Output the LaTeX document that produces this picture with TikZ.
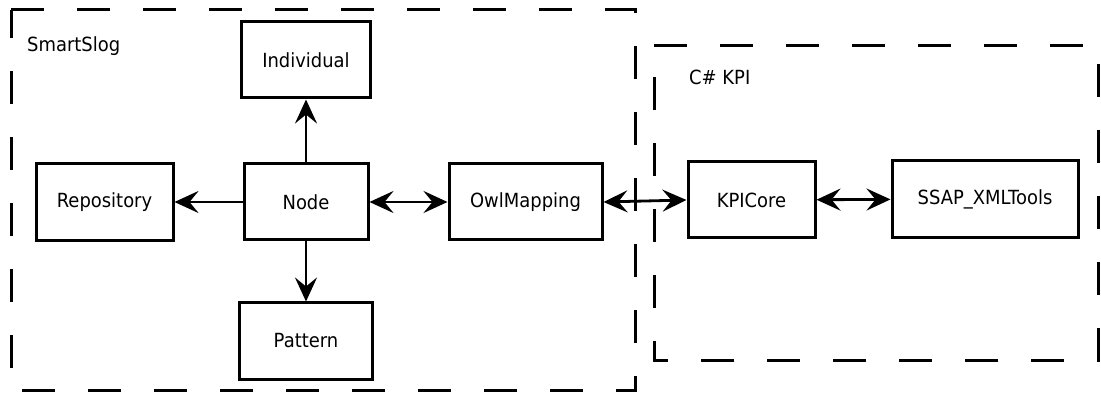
\documentclass[tikz,border=0pt]{standalone}
\usepackage{fontspec}
\setmainfont{DejaVu Sans}[FakeStretch=0.92]
\usetikzlibrary{arrows.meta}
\tikzset{
  box/.style={draw=black, line width=3pt, inner sep=0pt, fill=white},
  group/.style={draw=black, line width=3pt, dash pattern=on 33pt off 33pt},
  tip/.style={Stealth[length=24pt,width=22pt,inset=9pt]},
  conn/.style={line width=2.8pt, -{Stealth[length=24pt,width=22pt,inset=9pt]}},
  biconn/.style={line width=2.8pt, {Stealth[length=24pt,width=22pt,inset=9pt]}-{Stealth[length=24pt,width=22pt,inset=9pt]}},
  lbl/.style={inner sep=0pt, anchor=base west}
}
\begin{document}
\begin{tikzpicture}[x=1pt,y=-1pt,font=\fontsize{19.5}{23}\selectfont]
\useasboundingbox (0,0) rectangle (1101,398);
% groups
\draw[group] (11,10) -- (635,10) -- (635,390) -- (11,390) -- cycle;
\draw[group] (654,46) -- (1098,46) -- (1098,360) -- (654,360) -- cycle;
\node[lbl] (smartslog) at (27,52) {SmartSlog};
\node[lbl] (cskpi) at (689,85) {C\# KPI};
% nodes
\node[box, minimum width=129pt, minimum height=76pt] (individual) at (306,60) {Individual};
\node[box, minimum width=137pt, minimum height=77pt] (repository) at (104.5,202) {Repository};
\node[box, minimum width=124pt, minimum height=76pt] (node) at (306,202) {Node};
\node[box, minimum width=133pt, minimum height=76pt] (pattern) at (306,341) {Pattern};
\node[box, minimum width=153pt, minimum height=76pt] (owl) at (525.5,202) {OwlMapping};
\node[box, minimum width=127pt, minimum height=76pt] (kpicore) at (751.5,200) {KPICore};
\node[box, minimum width=186pt, minimum height=77pt] (ssap) at (985,199) {SSAP\_XMLTools};
% connectors
\draw[conn] (node) -- (individual);
\draw[conn] (node) -- (repository);
\draw[conn] (node) -- (pattern);
\draw[biconn] (node) -- (owl);
\draw[biconn] (owl.east) -- (kpicore.west);
\draw[biconn] (kpicore) -- (ssap);
\end{tikzpicture}
\end{document}
